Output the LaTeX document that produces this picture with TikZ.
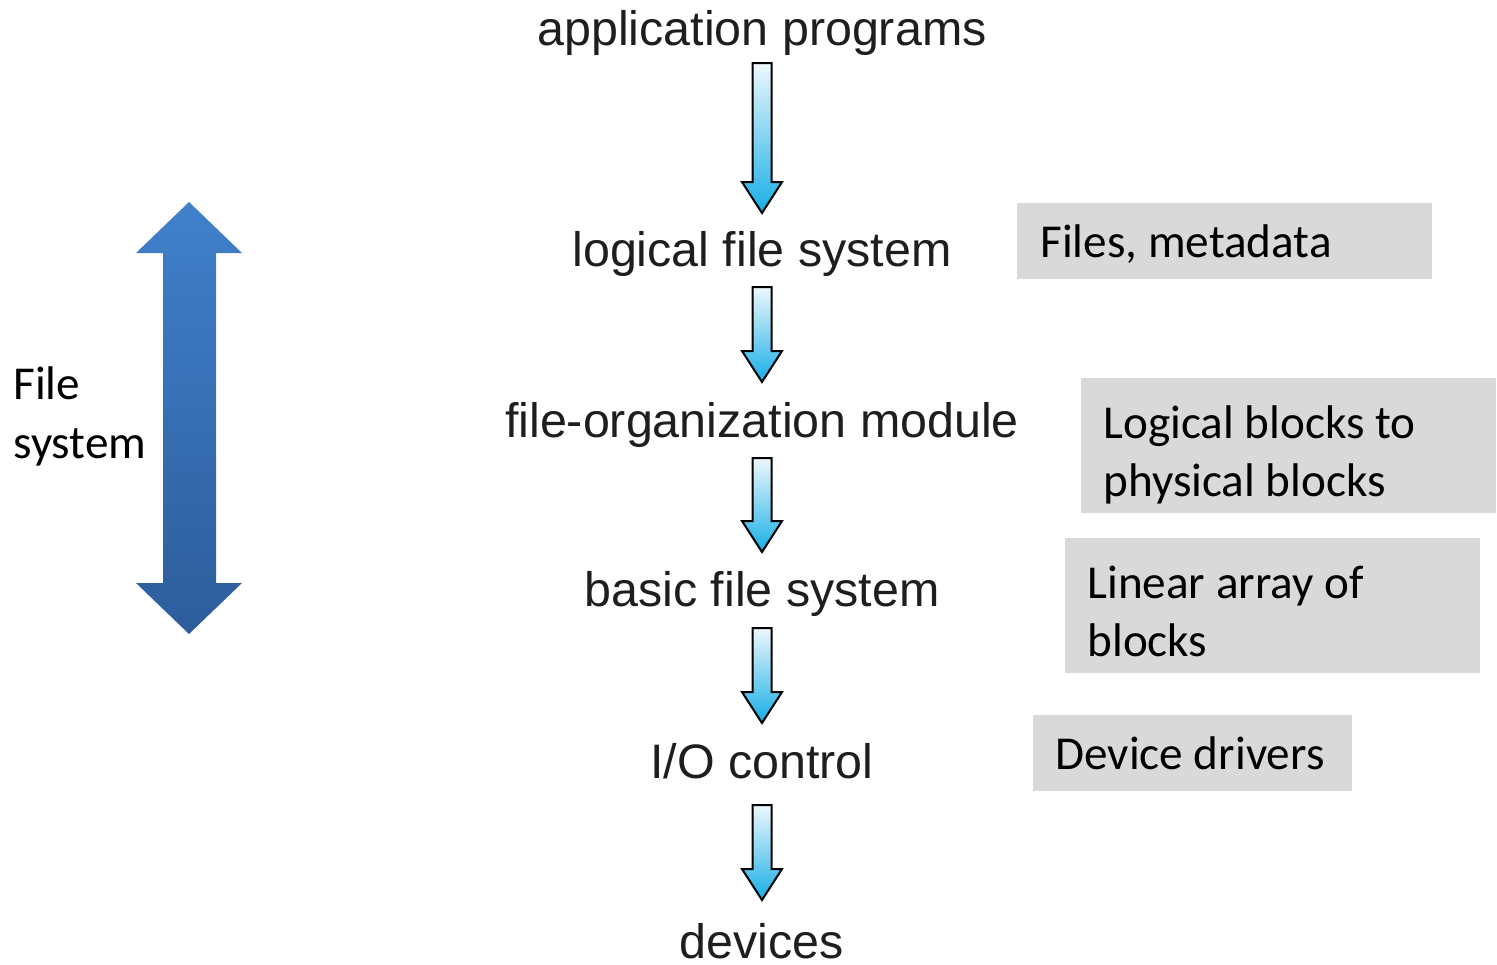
\documentclass[tikz,border=0pt]{standalone}
\usepackage{fontspec}
\setmainfont{Carlito}
\newfontfamily\helv{Liberation Sans}
\definecolor{notegray}{HTML}{D9D9D9}
\definecolor{layertext}{HTML}{1E1E1E}
\definecolor{flowtop}{HTML}{EEF8FD}
\definecolor{flowbot}{HTML}{16AEE6}
\definecolor{bigtop}{HTML}{4080CB}
\definecolor{bigbot}{HTML}{2D5D9B}
% downward flow arrow at x = 762: #1 shaft top, #2 tip (pixel units)
\newcommand{\flowarrow}[2]{%
  \shade[top color=flowtop, bottom color=flowbot, draw=black, line width=1pt, line join=miter]
    (752.5,#1) -- (771.5,#1) -- (771.5,#2-31) -- (782,#2-31) -- (762,#2)
    -- (742,#2-31) -- (752.5,#2-31) -- cycle;}
\begin{document}
\begin{tikzpicture}[x=0.5pt,y=-0.5pt,
  layer/.style={font=\helv\fontsize{24.2}{29}\selectfont, text=layertext, inner sep=0pt, anchor=base},
  notebox/.style={fill=notegray, inner sep=0pt, anchor=north west},
  notetext/.style={font=\fontsize{23.6}{29}\selectfont, text=black, inner sep=0pt, anchor=base west, align=left},
  sidetext/.style={font=\fontsize{23.6}{29}\selectfont, text=black, inner sep=0pt, anchor=base west}]
\useasboundingbox (0,0) rectangle (1497,964);

% layered file-system structure
\node[layer] (app)  at (762,45)  {application programs};
\node[layer] (lfs)  at (762,266) {logical file system};
\node[layer] (fom)  at (762,437) {file-organization module};
\node[layer] (bfs)  at (762,606) {basic file system};
\node[layer] (ioc)  at (762,778) {I/O control};
\node[layer] (dev)  at (762,958) {devices};

\flowarrow{63}{213}
\flowarrow{287}{382}
\flowarrow{458}{552}
\flowarrow{628}{723}
\flowarrow{805}{900}

% annotation boxes
\node[notebox, minimum width=207.5pt, minimum height=38pt] (n1) at (1017,203) {};
\node[notetext] (t1) at (1040,257) {Files, metadata};
\node[notebox, minimum width=207.5pt, minimum height=67.5pt] (n2) at (1081,378) {};
\node[notetext] (t2a) at (1103,438) {Logical blocks to};
\node[notetext] (t2b) at (1103,496) {physical blocks};
\node[notebox, minimum width=207.5pt, minimum height=67.5pt] (n3) at (1065,538) {};
\node[notetext] (t3a) at (1087,598) {Linear array of};
\node[notetext] (t3b) at (1087,656) {blocks};
\node[notebox, minimum width=159.5pt, minimum height=38pt] (n4) at (1033,715) {};
\node[notetext] (t4) at (1055,769) {Device drivers};

% file-system span
\node[sidetext] (fs1) at (13,399) {File};
\node[sidetext] (fs2) at (13,458) {system};
\shade[top color=bigtop, bottom color=bigbot]
  (189,202) -- (242,253) -- (216,253) -- (216,583) -- (242,583) -- (189,634)
  -- (136,583) -- (163,583) -- (163,253) -- (136,253) -- cycle;
\end{tikzpicture}
\end{document}
